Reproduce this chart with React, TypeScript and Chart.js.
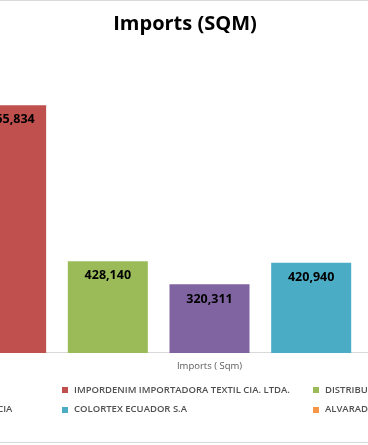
import { useEffect, useRef } from 'react';
import { Chart, registerables } from 'chart.js';

Chart.register(...registerables);

const chartTitle = 'Imports (SQM)';
const categories = ['Imports ( Sqm)'];
const axisTitle = 'Imports ( Sqm)';
const companies = [
  'TEXTILES TEXTEJIDOS S.A.',
  'IMPORDENIM IMPORTADORA TEXTIL CIA. LTDA.',
  'DISTRIBUIDORA TEXTIL NACIONAL S.A.',
  'IMPORTADORA TEXTIL CASA DEL MAR CIA',
  'COLORTEX ECUADOR S.A',
  'ALVARADO VERA JOSE LUIS',
  'TEXTILES LA ESCALA S.A.',
];
const importsSqm = [610000, 1155834, 428140, 320311, 420940, 280000, 150000];
const seriesColors = ['#4F81BD', '#C0504D', '#9BBB59', '#8064A2', '#4BACC6', '#F79646', '#2C4D75'];
const yAxisMax = 1400000;

const valueLabels = {
  id: 'valueLabels',
  afterDatasetsDraw(chart: any) {
    const ctx = chart.ctx;
    ctx.save();
    ctx.font = 'bold 12.5px "Open Sans"';
    ctx.fillStyle = '#000000';
    ctx.textAlign = 'center';
    ctx.textBaseline = 'middle';
    chart.data.datasets.forEach((ds: any, i: number) => {
      const meta = chart.getDatasetMeta(i);
      meta.data.forEach((bar: any, j: number) => {
        const v = ds.data[j];
        ctx.fillText(Number(v).toLocaleString('en-US'), bar.x, bar.y + 14.7);
      });
    });
    ctx.restore();
  },
};

const gridLegend = {
  id: 'gridLegend',
  afterDraw(chart: any) {
    const ctx = chart.ctx;
    const cx = chart.width / 2;
    ctx.save();
    ctx.font = '600 9.5px "Open Sans"';
    ctx.textBaseline = 'middle';
    ctx.textAlign = 'left';
    chart.data.datasets.forEach((ds: any, i: number) => {
      const col = i % 3;
      const row = Math.floor(i / 3);
      const x = cx - 122.7 + (col - 1) * 251;
      const y = chart.height - 52 + row * 19.7;
      ctx.fillStyle = ds.backgroundColor;
      ctx.fillRect(Math.round(x), Math.round(y - 3), 6, 6);
      ctx.fillStyle = '#505050';
      ctx.fillText(ds.label, x + 11.7, y);
    });
    ctx.restore();
  },
};

export default function App() {
  const canvasRef = useRef<HTMLCanvasElement | null>(null);

  useEffect(() => {
    if (!canvasRef.current) return;
    const chart = new Chart(canvasRef.current, {
      type: 'bar',
      data: {
        labels: categories,
        datasets: companies.map((name, i) => ({
          label: name,
          data: [importsSqm[i]],
          backgroundColor: seriesColors[i],
          borderWidth: 0,
          categoryPercentage: 0.928,
          barPercentage: 0.787,
        })),
      },
      options: {
        responsive: false,
        animation: false,
        layout: { padding: { left: 20, right: 20, top: 0, bottom: 69.7 } },
        plugins: {
          legend: { display: false },
          tooltip: { enabled: false },
          title: {
            display: true,
            text: chartTitle,
            color: '#000000',
            font: { family: 'Open Sans', size: 20, weight: 'bold' },
            padding: { top: 11, bottom: 16.8 },
          },
        },
        scales: {
          x: {
            grid: { display: false, drawTicks: false },
            border: { display: true, color: '#d9d9d9', width: 1 },
            ticks: { display: false },
            title: {
              display: true,
              text: axisTitle,
              color: '#595959',
              font: { family: 'Open Sans', size: 9.5 },
              padding: { top: 8, bottom: 0 },
            },
          },
          y: {
            display: true,
            min: 0,
            max: yAxisMax,
            grid: { display: false, drawTicks: false },
            border: { display: false },
            ticks: { display: false },
            afterFit: (scale: any) => {
              scale.width = 49;
            },
          },
        },
      },
      plugins: [valueLabels, gridLegend],
    });
    return () => chart.destroy();
  }, []);

  return (
    <div
      style={{
        position: 'fixed',
        left: 0,
        top: 0,
        width: 368,
        height: 445,
        overflow: 'hidden',
        background: '#ffffff',
      }}
    >
      <div
        style={{
          position: 'absolute',
          left: -244,
          top: 0,
          width: 858,
          height: 443,
          boxSizing: 'border-box',
          border: '1px solid #d9d9d9',
          background: '#ffffff',
        }}
      >
        <canvas ref={canvasRef} width={856} height={441} style={{ display: 'block' }} />
      </div>
    </div>
  );
}
